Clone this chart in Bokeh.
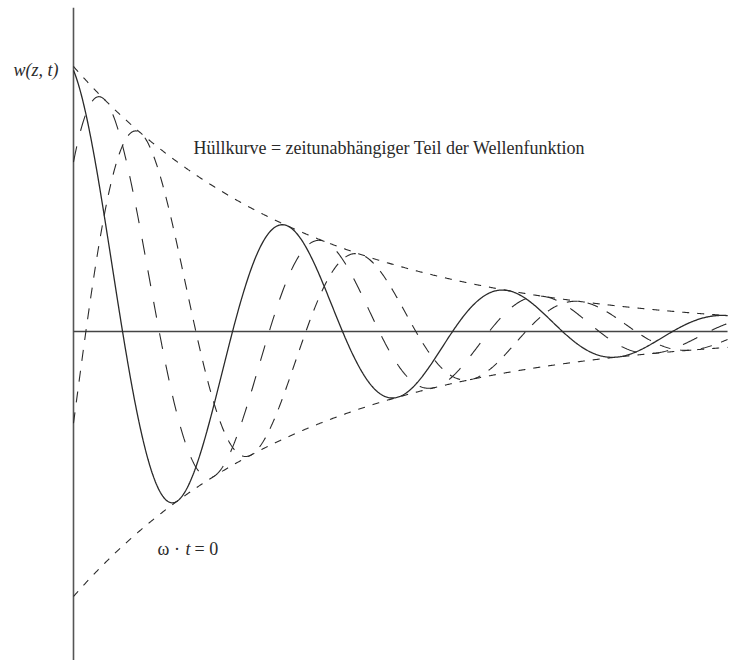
import numpy as np
from bokeh.plotting import figure
from bokeh.models import Range1d, ColumnDataSource
from bokeh.core.properties import value
from bokeh.embed import file_html
from bokeh.resources import INLINE

# Damped travelling wave  w(z,t) = A * exp(-alpha z) * cos(beta z + phi0 - omega t)
# z measured in wavelengths
AMPLITUDE = 1.0
DECAY = 0.946                 # alpha per wavelength
WAVENUMBER = 2 * np.pi        # beta per wavelength
PHASE0 = 0.17                 # rad
Z_END = (6 * np.pi - PHASE0) / WAVENUMBER
OMEGA_T = [0.0, np.pi / 3, 2 * np.pi / 3]          # snapshots omega*t
CURVE_DASH = ["solid", "16 16", "11 10"]
CURVE_WIDTH = [1.3, 1.1, 1.1]

ENVELOPE_LABEL = "Hüllkurve = zeitunabhängiger Teil der Wellenfunktion"
AXIS_LABEL = "w(z, t)"

SERIF = value("Liberation Serif")
INK = "#2a2a2a"

z = np.linspace(0.0, Z_END, 800)
env = AMPLITUDE * np.exp(-DECAY * z)

p = figure(width=754, height=660,
           x_range=Range1d(-0.3318, 3.0955), y_range=Range1d(-1.2415, 1.249),
           output_backend="svg", toolbar_location=None,
           min_border=0, min_border_left=0, min_border_right=0,
           min_border_top=0, min_border_bottom=0)
p.axis.visible = False
p.grid.visible = False
p.outline_line_color = None
p.background_fill_color = "white"
p.border_fill_color = "white"

# coordinate axes
p.line([0, 0], [1.222, -1.25], line_color="#555555", line_width=1.6)
p.line([0, Z_END], [0, 0], line_color="#444444", line_width=1.4)

# envelope
env_src = ColumnDataSource(dict(z=z, up=env, dn=-env))
p.line("z", "up", source=env_src, line_color=INK, line_width=1.1, line_dash="7 8")
p.line("z", "dn", source=env_src, line_color=INK, line_width=1.1, line_dash="7 8")

# wave snapshots
for wt, dash, lw in zip(OMEGA_T, CURVE_DASH, CURVE_WIDTH):
    w = env * np.cos(WAVENUMBER * z + PHASE0 - wt)
    p.line(z, w, line_color=INK, line_width=lw, line_dash=dash)

# labels
p.text(x=[0], y=[0.985], text=[AXIS_LABEL], text_font=SERIF, text_font_style="italic",
       text_font_size="18px", text_color=INK, text_align="right",
       text_baseline="alphabetic", x_offset=-15)
p.text(x=[0.545], y=[0.694], text=[ENVELOPE_LABEL], text_font=SERIF,
       text_font_size="18px", text_color=INK, text_align="left",
       text_baseline="alphabetic")

# omega * t = 0 caption
cap_z, cap_w = 0.382, -0.82
p.text(x=[cap_z], y=[cap_w], text=["ω ·"], text_font=SERIF, text_font_size="18px",
       text_color=INK, text_align="left", text_baseline="alphabetic")
p.text(x=[cap_z], y=[cap_w], text=["t"], text_font=SERIF, text_font_style="italic",
       text_font_size="18px", text_color=INK, text_align="left",
       text_baseline="alphabetic", x_offset=28)
p.text(x=[cap_z], y=[cap_w], text=["= 0"], text_font=SERIF, text_font_size="18px",
       text_color=INK, text_align="left", text_baseline="alphabetic", x_offset=37)

open("out.html", "w").write(file_html(p, INLINE))
